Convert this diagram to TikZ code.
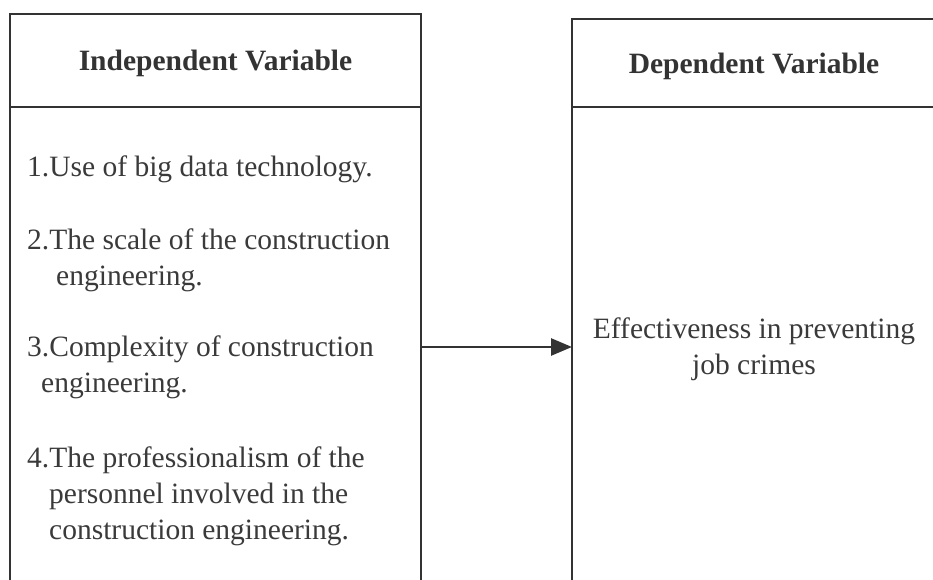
\documentclass[tikz,border=0pt]{standalone}
\usepackage{fontspec}
\setmainfont{Liberation Serif}
\usetikzlibrary{arrows.meta,positioning,calc}
\definecolor{FrameInk}{HTML}{333333}
\definecolor{TextInk}{HTML}{3A3A3A}

\begin{document}
\begin{tikzpicture}[x=1pt,y=1pt]
  \path[use as bounding box] (0,0) rectangle (933,580);
  \clip (0,0) rectangle (933,580);
  \tikzset{
    varHead/.style={
      draw=FrameInk, line width=2.6pt, inner sep=0pt, outer sep=0pt,
      text depth=0pt, font=\fontsize{29.5}{34}\selectfont\bfseries,
      text=FrameInk
    },
    varBody/.style={
      draw=FrameInk, line width=2.6pt, inner sep=0pt, outer sep=0pt,
      minimum height=500pt, anchor=north
    },
    varItem/.style={
      anchor=base west, inner sep=0pt, align=left,
      font=\fontsize{29.5}{36}\selectfont, text=TextInk
    },
    varFlow/.style={
      -{Triangle[length=21pt,width=17pt]}, draw=FrameInk, line width=2.6pt
    }
  }

  % independent side
  \node[varHead, minimum width=411pt, minimum height=93pt] (indepHead)
    at (215.5,519.5) {Independent Variable};
  \node[varBody, minimum width=411pt] (indepBody) at (indepHead.south) {};

  % items, placed by the baseline of their last line
  \node[varItem] (itemData) at (27,403) {1.Use of big data technology.};
  \node[varItem] (itemScale) at (27,294)
    {2.The scale of the construction\\\hspace*{29pt}engineering.};
  \node[varItem] (itemComplex) at (27,187)
    {3.Complexity of construction\\\hspace*{14pt}engineering.};
  \node[varItem] (itemStaff) at (27,40)
    {4.The professionalism of the\\\hspace*{22pt}personnel involved in the\\\hspace*{22pt}construction engineering.};

  % dependent side
  \node[varHead, minimum width=364pt, minimum height=88pt] (depHead)
    at (754,517) {Dependent Variable};
  \node[varBody, minimum width=364pt] (depBody) at (depHead.south) {};

  \node[varItem, anchor=base, align=center] (effect) at (754,205)
    {Effectiveness in preventing\\job crimes};

  \coordinate (link) at (0,233);
  \draw[varFlow] (indepBody.east |- link) -- (depBody.west |- link);
\end{tikzpicture}
\end{document}
